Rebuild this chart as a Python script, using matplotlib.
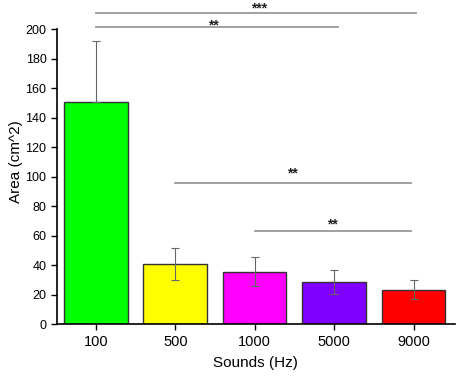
import matplotlib
matplotlib.use('Agg')
from matplotlib import pyplot as plt

plt.rcParams['font.family'] = ['Liberation Sans', 'DejaVu Sans']

sounds = ['100', '500', '1000', '5000', '9000']
area = [150.5, 40.7, 35.3, 28.5, 23.0]
err_low = [0.0, 11.0, 9.5, 8.2, 6.0]
err_high = [42.0, 11.3, 10.1, 8.1, 6.8]
colors = ['#00ff00', '#ffff00', '#ff00ff', '#7f00ff', '#ff0000']

# significance brackets: (start index, end index, line y, label, label x, label y)
sig = [(0, 4.03, 211, '***', 2.05, 214.5),
       (0, 3.05, 202, '**', 1.48, 203),
       (1, 3.97, 95.6, '**', 2.48, 102),
       (2, 3.97, 63, '**', 2.98, 67.5)]

fig = plt.figure(figsize=(4.59, 3.80), dpi=100)
ax = fig.add_axes([0.124, 0.147, 0.867, 0.853])
x = list(range(len(sounds)))
ax.bar(x, area, width=0.8, color=colors, edgecolor='#333333', linewidth=1.0)
ax.errorbar(x, area, yerr=[err_low, err_high], fmt='none', ecolor='#666666',
            elinewidth=0.8, capsize=3, capthick=0.8)

for a, b, y, lab, tx, ty in sig:
    ax.plot([a, b], [y, y], color='#999999', lw=1.3, clip_on=False)
    ax.text(tx, ty, lab, ha='center', va='center', fontsize=10,
            fontweight='bold', color='#222222', clip_on=False)

ax.set_xlim(-0.49, 4.52)
ax.set_ylim(0, 220)
ax.set_yticks(range(0, 201, 20))
ax.set_xticks(x)
ax.set_xticklabels(sounds, fontsize=10.5)
ax.tick_params(axis='y', labelsize=9, direction='out', length=4, width=1)
ax.tick_params(axis='x', direction='out', length=4, width=1, pad=4)
ax.spines['top'].set_visible(False)
ax.spines['right'].set_visible(False)
ax.spines['left'].set_bounds(0, 200)
ax.spines['left'].set_linewidth(1.2)
ax.spines['bottom'].set_linewidth(1.2)
ax.set_xlabel('Sounds (Hz)', fontsize=11, labelpad=5)
ax.set_ylabel('Area (cm^2)', fontsize=11, labelpad=2)

plt.savefig('out.png')
plt.close()
